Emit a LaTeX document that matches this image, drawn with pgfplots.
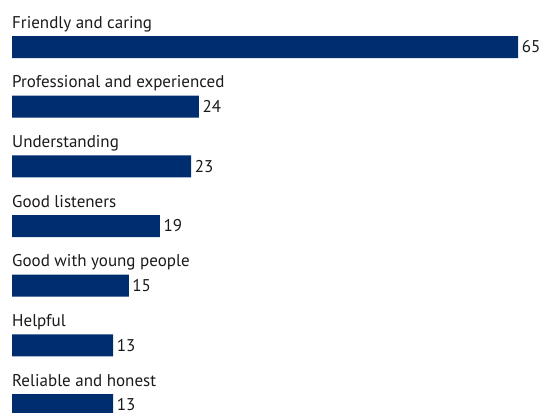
\documentclass[border=0pt]{standalone}
\usepackage{pgfplots}
\pgfplotsset{compat=1.18}
\usepackage{fontspec}
\setmainfont{PT Sans}
\definecolor{navy}{HTML}{002D6E}
\definecolor{txt}{HTML}{1A1A1A}
\begin{document}
\begin{tikzpicture}
\begin{axis}[
 at={(12pt,0pt)}, anchor=south west,
 scale only axis, width=528pt, height=412pt,
 xmin=0, xmax=67.82,
 ymin=-0.788, ymax=6.117, y dir=reverse,
 xbar, bar width=22pt,
 axis line style={draw=none},
 xtick=\empty,
 ytick={0,...,6},
 yticklabels={Friendly and caring, Professional and experienced, Understanding, Good listeners, Good with young people, Helpful, Reliable and honest},
 major tick length=0pt,
 yticklabel style={anchor=base west, inner sep=0pt, yshift=19pt, font=\fontsize{17}{19}\selectfont, text=txt},
 nodes near coords,
 nodes near coords style={anchor=west, inner sep=0pt, xshift=3.5pt, font=\fontsize{17}{19}\selectfont, text=txt},
 point meta=x,
 /pgf/number format/assume math mode=true,
]
\addplot[fill=navy, draw=none] coordinates {(65,0) (24,1) (23,2) (19,3) (15,4) (13,5) (13,6)};
\end{axis}
\pgfresetboundingbox
\path[use as bounding box] (0,0) rectangle (540pt,412pt);
\end{tikzpicture}
\end{document}
